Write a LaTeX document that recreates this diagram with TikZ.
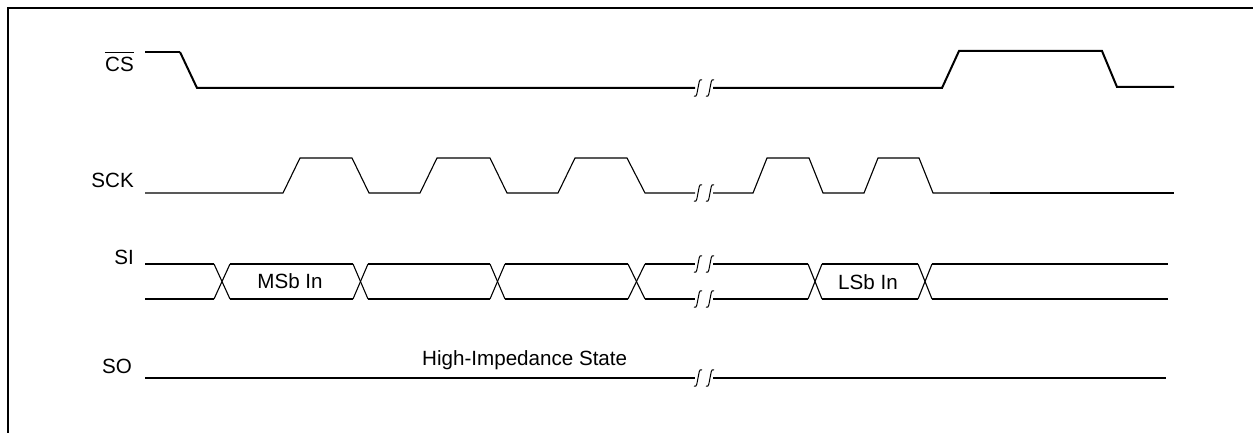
\documentclass[tikz,border=0pt]{standalone}
\usepackage{fontspec}
\setmainfont{Liberation Sans}
\begin{document}
\begin{tikzpicture}[x=1pt,y=-1pt,
  thinw/.style={line width=1.1pt},
  thickw/.style={line width=2pt},
  lbl/.style={font=\fontsize{20.6}{24}\selectfont, inner sep=0pt},
  brkmark/.pic={\draw[line width=1pt] (-4,8) .. controls (-1,10) and (-1,4) .. (0,0) .. controls (1,-4) and (1,-10) .. (4,-8);}]
\useasboundingbox (0,0) rectangle (1253,433);
% frame
\draw[line width=2pt] (8,433) -- (8,8) -- (1253,8);

% labels
\node[lbl, anchor=base east] (cs) at (134,72) {CS};
\draw[line width=1.2pt] ([yshift=5pt]cs.north west) -- ([yshift=5pt]cs.north east);
\node[lbl, anchor=base east] (sck) at (134,187) {SCK};
\node[lbl, anchor=base east] (si) at (134,264) {SI};
\node[lbl, anchor=base east] (so) at (132,373) {SO};
\node[lbl, anchor=base] (msb) at (290,288) {MSb In};
\node[lbl, anchor=base] (lsb) at (868,289) {LSb In};
\node[lbl, anchor=base west] (hiz) at (422,365) {High-Impedance State};

% CS
\draw[thinw] (145,52) -- (180,52);
\draw[thickw] (180,52) -- (197,88) -- (695,88);
\draw[thickw] (713,88) -- (942,88) -- (959,51) -- (1102,51) -- (1117,87) -- (1174,87);
\pic at (698,88) {brkmark};
\pic at (710,88) {brkmark};

% SCK
\draw[thinw] (145,193) -- (283,193) -- (300,158) -- (352,158) -- (369,193) -- (420,193)
  -- (437,158) -- (490,158) -- (507,193) -- (558,193) -- (575,158) -- (627,158)
  -- (645,193) -- (695,193);
\draw[thinw] (713,193) -- (753,193) -- (767,158) -- (809,158) -- (823,193) -- (864,193)
  -- (878,158) -- (919,158) -- (933,193) -- (990,193);
\draw[thickw] (990,193) -- (1174,193);
\pic at (698,193) {brkmark};
\pic at (710,193) {brkmark};

% SI bus
\foreach \a/\b in {145/214, 230/353, 368/490, 505/628, 713/808, 822/918}{
  \draw[thinw] (\a,264) -- (\b,264);
  \draw[thinw] (\a,299) -- (\b,299);
}
\foreach \a/\b in {214/230, 353/368, 490/505, 628/645, 808/822, 918/932}{
  \draw[thinw] (\a,264) -- (\b,299);
  \draw[thinw] (\a,299) -- (\b,264);
}
\draw[thickw] (645,264) -- (695,264);
\draw[thickw] (645,299) -- (695,299);
\draw[thickw] (932,264) -- (1168,264);
\draw[thickw] (932,299) -- (1168,299);
\pic at (698,264) {brkmark};
\pic at (710,264) {brkmark};
\pic at (698,299) {brkmark};
\pic at (710,299) {brkmark};

% SO
\draw[thickw] (145,378) -- (695,378);
\draw[thickw] (713,378) -- (1166,378);
\pic at (698,378) {brkmark};
\pic at (710,378) {brkmark};
\end{tikzpicture}
\end{document}
